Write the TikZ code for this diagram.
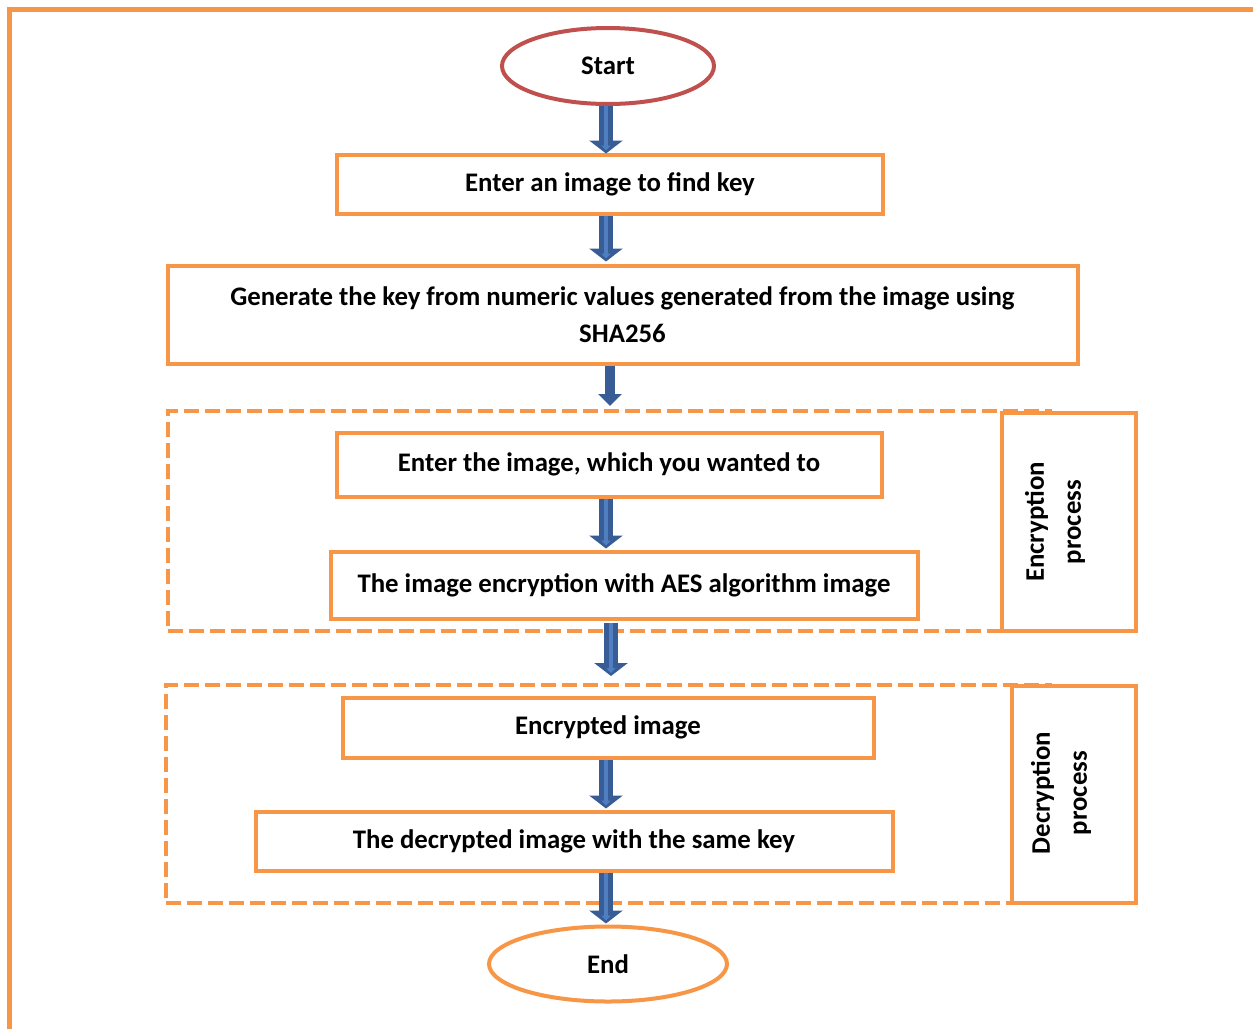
\documentclass[tikz,border=0pt]{standalone}
\usepackage{fontspec}
\setmainfont{Carlito}
\usetikzlibrary{arrows.meta}
\definecolor{orng}{HTML}{F79646}
\definecolor{redl}{HTML}{C0504D}
\definecolor{arrdark}{HTML}{385D96}
\definecolor{arrlight}{HTML}{4F7FC0}
\tikzset{
  txt/.style={font=\fontsize{26.8}{37}\selectfont\bfseries},
  stepbox/.style={draw=orng, line width=4pt, rectangle, inner sep=0pt, txt, align=center},
  dashbox/.style={draw=orng, line width=4pt, rectangle, inner sep=0pt, dash pattern=on 15pt off 6pt},
  sidebox/.style={draw=orng, line width=4pt, rectangle, inner sep=0pt, fill=white},
  ovalnode/.style={ellipse, line width=4pt, inner sep=0pt, txt, fill=white},
  bigarrow/.style={draw=arrdark, line width=14pt, -{Triangle[length=13pt, width=33pt]},
    postaction={draw=arrlight, line width=4pt, shorten >=3pt, -{Triangle[length=5pt, width=9pt]}}},
  smallarrow/.style={draw=arrdark, line width=10pt, -{Triangle[length=12pt, width=23pt]}},
}
\usetikzlibrary{shapes.geometric}
\begin{document}
\begin{tikzpicture}[x=1pt,y=-1pt]
\useasboundingbox (0,0) rectangle (1253,1029);
% outer frame
\draw[orng, line width=5pt] (9.5,1029) -- (9.5,9.5) -- (1253,9.5);

% dashed groups
\node[dashbox, minimum width=882pt, minimum height=220pt] (enc) at (609,521) {};
\node[dashbox, minimum width=884pt, minimum height=218pt] (dec) at (608,794) {};

% side boxes
\node[sidebox, minimum width=134pt, minimum height=218pt] (encl) at (1069,522) {};
\node[sidebox, minimum width=124pt, minimum height=217pt] (decl) at (1074,794.5) {};
\node[txt, rotate=90, align=center] (encltxt) at (1055,522) {Encryption\\process};
\node[txt, rotate=90, align=center] (decltxt) at (1061,793) {Decryption\\process};

% main nodes
\node[ovalnode, draw=redl, minimum width=212pt, minimum height=76pt] (s) at (608,66) {Start};
\node[stepbox, minimum width=546pt, minimum height=59pt] (b1) at (610,184) {Enter an image to find key};
\node[stepbox, minimum width=910pt, minimum height=98pt] (b2) at (622.5,314.5) {Generate the key from numeric values generated from the image using\\SHA256};
\node[stepbox, minimum width=545pt, minimum height=64pt] (b3) at (609,464.5) {Enter the image, which you wanted to};
\node[stepbox, minimum width=587pt, minimum height=67pt] (b4) at (624,585) {The image encryption with AES algorithm image};
\node[stepbox, minimum width=531pt, minimum height=60pt] (b5) at (608,727.5) {Encrypted image};
\node[stepbox, minimum width=637pt, minimum height=59pt] (b6) at (574,841) {The decrypted image with the same key};
\node[ovalnode, draw=orng, minimum width=238pt, minimum height=75pt] (e) at (608,964) {End};

% arrows
\draw[bigarrow] ([xshift=-2pt]s.south) -- ([xshift=-2pt,yshift=-1pt]s.south |- b1.north);
\draw[bigarrow] ([xshift=-2pt]s.south |- b1.south) -- ([xshift=-2pt,yshift=2pt]s.south |- b2.north);
\draw[smallarrow] ([xshift=2pt]s.south |- b2.south) -- ([xshift=2pt,yshift=3pt]s.south |- enc.north);
\draw[bigarrow] ([xshift=-2pt]s.south |- b3.south) -- ([xshift=-2pt,yshift=1pt]s.south |- b4.north);
\draw[bigarrow] ([xshift=3pt,yshift=-2pt]s.south |- b4.south) -- ([xshift=3pt,yshift=7pt]s.south |- dec.north);
\draw[bigarrow] ([xshift=-2pt]s.south |- b5.south) -- ([xshift=-2pt,yshift=1pt]s.south |- b6.north);
\draw[bigarrow] ([xshift=-2pt]s.south |- b6.south) -- ([xshift=-2pt,yshift=1pt]s.south |- e.north);
\end{tikzpicture}
\end{document}
